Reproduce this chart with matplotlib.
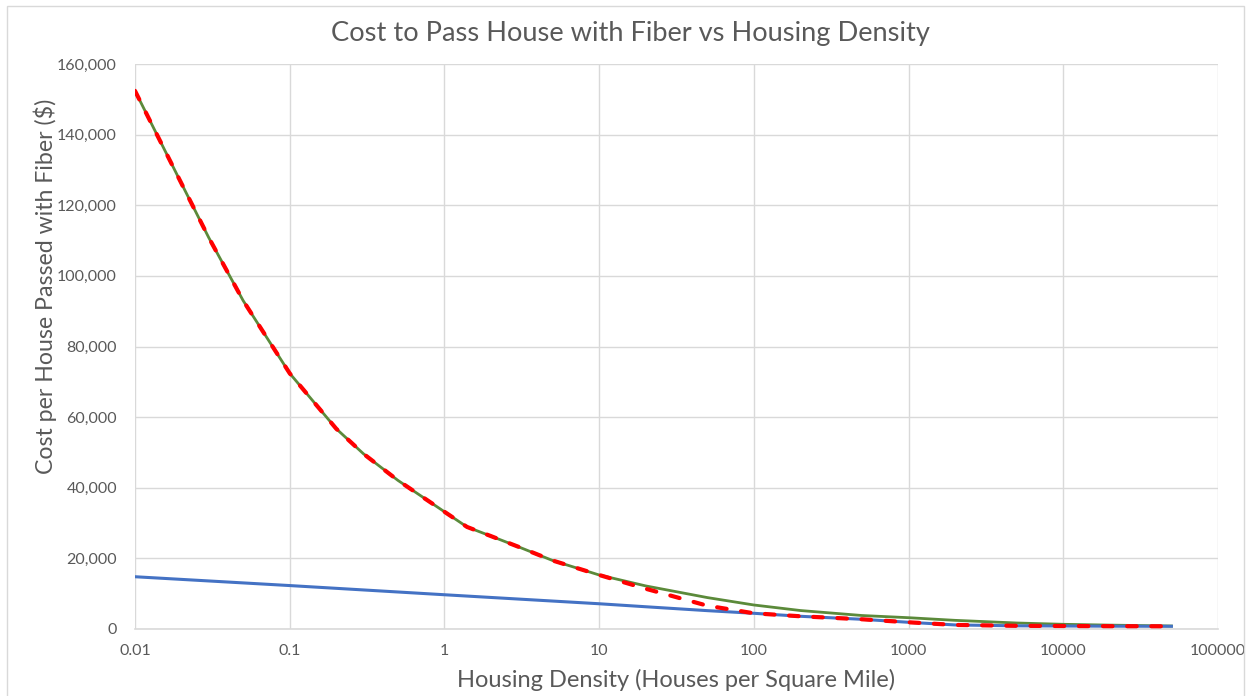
import matplotlib
matplotlib.use("Agg")
import matplotlib.pyplot as plt
from matplotlib.patches import Rectangle
from matplotlib.ticker import FuncFormatter, FixedLocator

# density in houses per square mile
density = [0.01, 0.015, 0.02, 0.03, 0.05, 0.1, 0.2, 0.3, 0.5, 1, 1.4, 2, 3, 5,
           10, 20, 50, 100, 200, 500, 1000, 2000, 5000, 10000, 20000, 50000]
# green curve
cost_total = [152400, 137000, 126100, 110800, 93000, 72400, 56700, 49600, 42100,
              33200, 28900, 26300, 23300, 19400, 15300, 12200, 8900, 6800, 5230,
              3820, 3200, 2450, 1700, 1330, 1100, 850]

# blue line
blue_density = [0.01, 0.1, 1, 10, 20, 50, 100, 200, 500, 1000, 2000, 5000,
                10000, 20000, 50000]
blue_cost = [14800, 12300, 9700, 7150, 6300, 5200, 4450, 3600, 2750, 1900, 1150,
             900, 850, 800, 770]

# red dashed
red_density = [0.01, 0.015, 0.02, 0.03, 0.05, 0.1, 0.2, 0.3, 0.5, 1, 1.4, 2, 3,
               5, 10, 20, 50, 100, 200, 500, 1000, 2000, 5000, 10000, 20000, 50000]
red_cost = [152400, 137000, 126100, 110800, 93000, 72400, 56700, 49600, 42100,
            33200, 28900, 26300, 23300, 19400, 15300, 11400, 6600, 4450, 3600,
            2750, 1900, 1150, 900, 850, 800, 770]

xticks = [0.01, 0.1, 1, 10, 100, 1000, 10000, 100000]
xtick_labels = ["0.01", "0.1", "1", "10", "100", "1000", "10000", "100000"]
yticks = list(range(0, 160001, 20000))

txt = "#595959"
grid = "#D9D9D9"
plt.rcParams["font.family"] = ["Lato", "DejaVu Sans"]

fig = plt.figure(figsize=(12.51, 6.96), dpi=100)
ax = fig.add_axes([135 / 1251, 1 - 629 / 696, (1218 - 135) / 1251, (629 - 64) / 696])

ax.plot(density, cost_total, color="#5B8A3A", lw=2.0, zorder=3)
ax.plot(blue_density, blue_cost, color="#4472C4", lw=2.2, zorder=4)
ax.plot(red_density, red_cost, color="#FF0000", lw=3.0, zorder=5,
        dashes=(2.3, 3.5), dash_capstyle="round")

ax.set_xscale("log")
ax.set_xlim(0.01, 100000)
ax.set_ylim(0, 160000)
ax.xaxis.set_major_locator(FixedLocator(xticks))
ax.xaxis.set_minor_locator(FixedLocator([]))
ax.set_xticklabels(xtick_labels)
ax.set_yticks(yticks)
ax.yaxis.set_major_formatter(FuncFormatter(lambda v, p: f"{int(v):,}"))

ax.grid(True, color=grid, lw=1)
ax.set_axisbelow(True)
for s in ["top", "right", "left"]:
    ax.spines[s].set_visible(False)
ax.spines["bottom"].set_color(grid)
ax.spines["bottom"].set_linewidth(1.2)
ax.tick_params(length=0, labelsize=11.5, labelcolor=txt)
ax.tick_params(axis="x", pad=11)
ax.tick_params(axis="y", pad=13)

ax.set_xlabel("Housing Density (Houses per Square Mile)", fontsize=17, color=txt,
              labelpad=8)
ax.set_ylabel("Cost per House Passed with Fiber ($)", fontsize=16.7, color=txt)
ax.yaxis.set_label_coords(-0.072, 0.607)
fig.text(630 / 1251, 1 - 34 / 696, "Cost to Pass House with Fiber vs Housing Density",
         ha="center", va="center", fontsize=19.6, color=txt)

fig.patches.append(Rectangle((7 / 1251, -0.05), (1244 - 7) / 1251, 1.05 - 6 / 696,
                             transform=fig.transFigure, fill=False,
                             edgecolor=grid, lw=1))

fig.savefig("out.png", dpi=100)
